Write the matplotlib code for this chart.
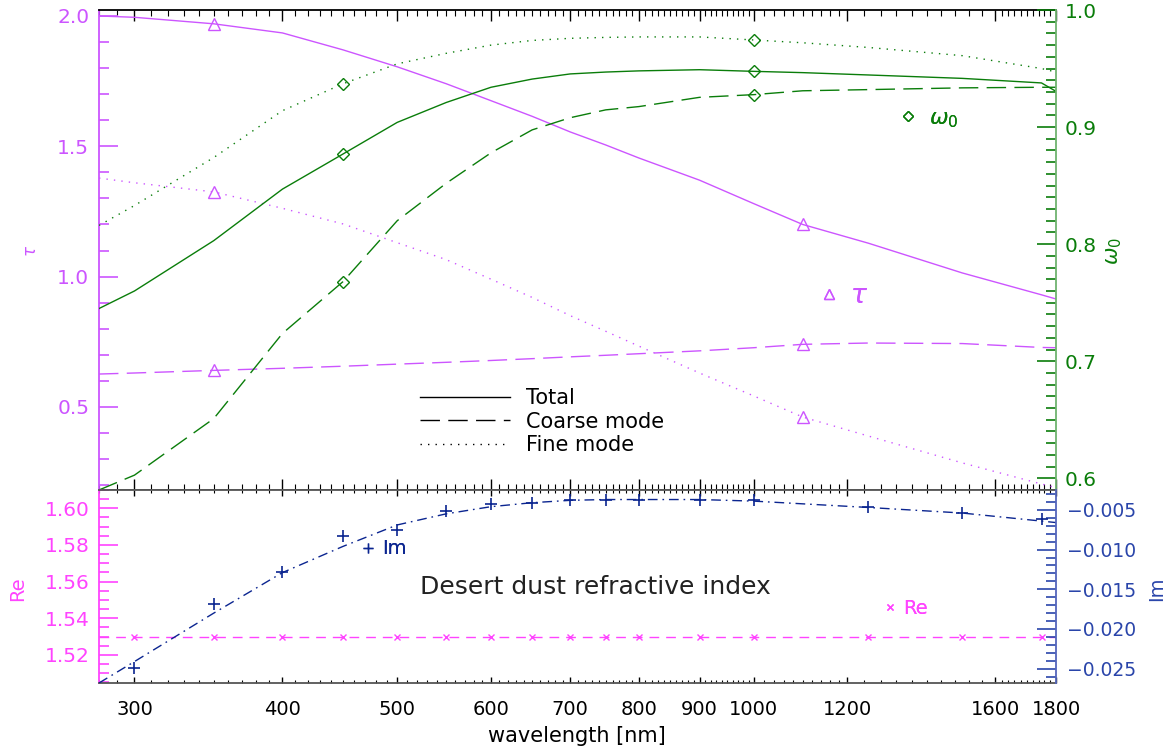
import matplotlib
matplotlib.use('Agg')
import matplotlib.pyplot as plt
from matplotlib.lines import Line2D
from matplotlib.ticker import FixedLocator, NullFormatter, FormatStrFormatter, MultipleLocator, FuncFormatter

plt.rcParams['font.family'] = ['DejaVu Sans']
plt.rcParams['mathtext.fontset'] = 'dejavusans'
plt.rcParams['lines.scale_dashes'] = False

# ---------------- data ----------------
wl = [280, 300, 350, 400, 450, 500, 550, 600, 650, 700, 750, 800, 900, 1000, 1100, 1250, 1500, 1750, 1800]
tau_total = [2.00, 1.995, 1.97, 1.935, 1.87, 1.805, 1.74, 1.675, 1.615, 1.555, 1.505, 1.455, 1.37, 1.28, 1.20, 1.128, 1.014, 0.93, 0.914]
tau_coarse = [0.626, 0.63, 0.64, 0.648, 0.656, 0.664, 0.671, 0.678, 0.685, 0.692, 0.698, 0.704, 0.715, 0.727, 0.74, 0.745, 0.743, 0.728, 0.727]
tau_fine = [1.378, 1.36, 1.325, 1.262, 1.202, 1.13, 1.065, 0.99, 0.92, 0.85, 0.79, 0.733, 0.63, 0.542, 0.461, 0.388, 0.285, 0.204, 0.19]
omega_total = [0.745, 0.760, 0.803, 0.847, 0.877, 0.904, 0.921, 0.934, 0.941, 0.9454, 0.947, 0.948, 0.949, 0.9476, 0.9465, 0.9445, 0.9416, 0.9377, 0.9305]
omega_coarse = [0.59, 0.6027, 0.651, 0.7237, 0.768, 0.820, 0.852, 0.878, 0.8976, 0.908, 0.9147, 0.9175, 0.9254, 0.9277, 0.931, 0.932, 0.9335, 0.934, 0.934]
omega_fine = [0.816, 0.833, 0.874, 0.914, 0.937, 0.954, 0.963, 0.970, 0.974, 0.9758, 0.9766, 0.977, 0.977, 0.9744, 0.972, 0.968, 0.961, 0.950, 0.947]
tau_mark_wl = [350, 1100]
omega_mark_wl = [450, 1000]

wl_ri = [300, 350, 400, 450, 500, 550, 600, 650, 700, 750, 800, 900, 1000, 1250, 1500, 1750]
re_vals = [1.53] * 16
im_vals = [-0.0249, -0.0168, -0.0128, -0.0083, -0.0075, -0.0052, -0.0043, -0.0041, -0.0037, -0.0037,
           -0.0037, -0.0037, -0.0038, -0.0047, -0.0054, -0.0061]
wl_re_line = [280, 1800]
re_line = [1.53, 1.53]
wl_im_fit = [280, 300, 350, 400, 450, 500, 550, 600, 650, 700, 750, 800, 900, 1000, 1250, 1500, 1800]
im_fit = [-0.0268, -0.0241, -0.018, -0.0129, -0.0096, -0.0069, -0.0055, -0.0046, -0.0041, -0.0038,
          -0.0037, -0.0037, -0.0037, -0.0039, -0.0047, -0.0054, -0.0066]

xticks_major = [300, 400, 500, 600, 700, 800, 900, 1000, 1200, 1600, 1800]
xticks_minor = (list(range(280, 1000, 10)) + list(range(1000, 1200, 20)) +
                list(range(1200, 1600, 40)) + list(range(1600, 1800, 20)))

# ---------------- styles ----------------
tau_c = '#cc55ff'
om_c = '#0a7d0a'
om_spine = '#6fb36f'
re_c = '#ff44ff'
im_c = '#0b2590'
im_lab = '#2a45aa'
DASH = (0, (14, 6))
DOT = (0, (1.0, 4.4))
LW = 1.0
FS = 14

fig = plt.figure(figsize=(11.68, 7.49), dpi=100)
L, W = 99 / 1168, (1056 - 99) / 1168
ax = fig.add_axes([L, 1 - 490 / 749, W, 480 / 749])
axr = ax.twinx()
bx = fig.add_axes([L, 1 - 683 / 749, W, 193 / 749])
bxr = bx.twinx()


def setup_x(a, labels, maj_len, min_len):
    a.set_xscale('log')
    a.set_xlim(280, 1800)
    a.xaxis.set_major_locator(FixedLocator(xticks_major))
    a.xaxis.set_minor_locator(FixedLocator(xticks_minor))
    a.xaxis.set_minor_formatter(NullFormatter())
    if labels:
        a.xaxis.set_major_formatter(FormatStrFormatter('%d'))
    else:
        a.xaxis.set_major_formatter(NullFormatter())
    a.tick_params(axis='x', which='both', direction='in', top=True, bottom=True, color='k')
    a.tick_params(axis='x', which='major', length=maj_len, width=1.0, labelsize=FS, pad=12)
    a.tick_params(axis='x', which='minor', length=min_len, width=0.8)


setup_x(ax, False, 8, 4.5)
setup_x(bx, True, 4, 2)
for a in (axr, bxr):
    a.tick_params(axis='x', which='both', top=False, bottom=False, labelbottom=False, labeltop=False)

# ---------------- top panel ----------------
mk_tau = [wl.index(w) for w in tau_mark_wl]
mk_om = [wl.index(w) for w in omega_mark_wl]
ax.plot(wl, tau_total, color=tau_c, lw=LW, marker='^', ms=8, mfc='none', mec=tau_c, mew=1, markevery=mk_tau)
ax.plot(wl, tau_coarse, color=tau_c, lw=LW, ls=DASH, marker='^', ms=8, mfc='none', mec=tau_c, mew=1, markevery=mk_tau)
ax.plot(wl, tau_fine, color=tau_c, lw=LW, ls=DOT, marker='^', ms=8, mfc='none', mec=tau_c, mew=1, markevery=mk_tau)
axr.plot(wl, omega_total, color=om_c, lw=LW, marker='D', ms=6, mfc='none', mec=om_c, mew=1, markevery=mk_om)
axr.plot(wl, omega_coarse, color=om_c, lw=LW, ls=DASH, marker='D', ms=6, mfc='none', mec=om_c, mew=1, markevery=mk_om)
axr.plot(wl, omega_fine, color=om_c, lw=LW, ls=DOT, marker='D', ms=6, mfc='none', mec=om_c, mew=1, markevery=mk_om)

ax.set_ylim(0.181, 2.023)
ax.yaxis.set_major_locator(MultipleLocator(0.5))
ax.yaxis.set_minor_locator(MultipleLocator(0.1))
ax.yaxis.set_major_formatter(FormatStrFormatter('%.1f'))
ax.tick_params(axis='y', which='both', direction='in', color=tau_c, labelcolor=tau_c, left=True, right=False)
ax.tick_params(axis='y', which='major', length=14, width=1.2, labelsize=FS + 0.5, pad=7)
ax.tick_params(axis='y', which='minor', length=7, width=1.2)

axr.set_ylim(0.59, 1.0)
axr.yaxis.set_major_locator(MultipleLocator(0.1))
axr.yaxis.set_minor_locator(MultipleLocator(0.01))
axr.yaxis.set_major_formatter(FormatStrFormatter('%.1f'))
axr.tick_params(axis='y', which='both', direction='in', color=om_c, labelcolor=om_c, right=True, left=False)
axr.tick_params(axis='y', which='major', length=14, width=1.2, labelsize=FS + 0.5, pad=6)
axr.tick_params(axis='y', which='minor', length=7, width=1.2)

ax.spines['left'].set_color(tau_c)
ax.spines['left'].set_linewidth(1.3)
ax.spines['right'].set_visible(False)
ax.spines['top'].set_color('k')
ax.spines['top'].set_linewidth(1.3)
ax.spines['bottom'].set_color('#555555')
ax.spines['bottom'].set_linewidth(1.3)
for s in ('left', 'top', 'bottom'):
    axr.spines[s].set_visible(False)
axr.spines['right'].set_color(om_spine)
axr.spines['right'].set_linewidth(1.3)

ax.set_ylabel(r'$\tau$', color=tau_c, fontsize=12)
ax.yaxis.set_label_coords(-0.062, 0.498)
axr.set_ylabel(r'$\omega_0$', color=om_c, fontsize=15)
axr.yaxis.set_label_coords(1.05, 0.498)

leg = ax.legend([Line2D([], [], color='k', lw=LW),
                 Line2D([], [], color='k', lw=LW, ls=DASH),
                 Line2D([], [], color='k', lw=LW, ls=DOT)],
                ['Total', 'Coarse mode', 'Fine mode'],
                loc='upper left', bbox_to_anchor=((420 - 99) / 957, (490 - 388) / 480),
                frameon=False, fontsize=15, handlelength=4.3, handletextpad=0.8,
                labelspacing=0.18, borderpad=0, borderaxespad=0)
ax.add_artist(leg)


def marker_label(a, marker, mcol, ms, text, tcol, fs, xy, hl, pad):
    h = Line2D([], [], ls='none', marker=marker, mfc='none', mec=mcol, ms=ms, mew=1)
    lg = a.legend([h], [text], loc='center left', bbox_to_anchor=xy, frameon=False,
                  fontsize=fs, labelcolor=tcol, handlelength=hl, handletextpad=pad,
                  borderpad=0, borderaxespad=0)
    a.add_artist(lg)


marker_label(axr, 'D', om_c, 5, r'$\omega_0$', om_c, 16, ((899 - 99) / 957, (490 - 119) / 480), 0.8, 0.55)
marker_label(ax, '^', tau_c, 7, r'$\tau$', tau_c, 19, ((818 - 99) / 957, (490 - 296) / 480), 0.8, 0.4)

# ---------------- bottom panel ----------------
bx.plot(wl_re_line, re_line, color=re_c, lw=LW, ls=(0, (7, 5)))
bx.plot(wl_ri, re_vals, ls='none', marker='x', ms=5, mec=re_c, mew=1)
bxr.plot(wl_im_fit, im_fit, color=im_c, lw=LW, ls=(0, (7, 3.5, 1.2, 3.5)))
bxr.plot(wl_ri, im_vals, ls='none', marker='+', ms=8, mec=im_c, mew=1.2)

bx.set_ylim(1.5047, 1.61)
bx.yaxis.set_major_locator(MultipleLocator(0.02))
bx.yaxis.set_minor_locator(MultipleLocator(0.005))
bx.yaxis.set_major_formatter(FormatStrFormatter('%.2f'))
bx.tick_params(axis='y', which='both', direction='in', color=re_c, labelcolor=re_c, left=True, right=False)
bx.tick_params(axis='y', which='major', length=14, width=1.2, labelsize=FS + 0.5, pad=7)
bx.tick_params(axis='y', which='minor', length=7, width=1.2)

bxr.set_ylim(-0.0268, -0.0025)
bxr.yaxis.set_major_locator(MultipleLocator(0.005))
bxr.yaxis.set_minor_locator(MultipleLocator(0.001))
bxr.yaxis.set_major_formatter(FuncFormatter(lambda v, p: ('%.3f' % v).replace('-', '\u2212')))
bxr.tick_params(axis='y', which='both', direction='in', color=im_lab, labelcolor=im_lab, right=True, left=False)
bxr.tick_params(axis='y', which='major', length=14, width=1.2, labelsize=13.5, pad=8)
bxr.tick_params(axis='y', which='minor', length=7, width=1.2)

bx.spines['left'].set_color(re_c)
bx.spines['left'].set_linewidth(1.3)
bx.spines['right'].set_visible(False)
bx.spines['top'].set_color('#555555')
bx.spines['top'].set_linewidth(1.3)
bx.spines['bottom'].set_color('#555555')
bx.spines['bottom'].set_linewidth(1.3)
for s in ('left', 'top', 'bottom'):
    bxr.spines[s].set_visible(False)
bxr.spines['right'].set_color('#5566bb')
bxr.spines['right'].set_linewidth(1.3)

bx.set_ylabel('Re', color=re_c, fontsize=14)
bx.yaxis.set_label_coords(-0.075, 0.49)
bxr.set_ylabel('Im', color=im_lab, fontsize=14)
bxr.yaxis.set_label_coords(1.095, 0.49)
bx.set_xlabel('wavelength [nm]', fontsize=15)
bx.xaxis.set_label_coords((577 - 99) / 957, -0.222)

bx.text((595 - 99) / 957, (683 - 587) / 193, 'Desert dust refractive index', transform=bx.transAxes,
        ha='center', va='center', fontsize=18, color='#222222')

marker_label(bxr, '+', im_c, 7, 'Im', im_c, 14, ((360 - 99) / 957, (683 - 549) / 193), 0.8, 0.35)
marker_label(bx, 'x', re_c, 5, 'Re', re_c, 14, ((882 - 99) / 957, (683 - 608) / 193), 0.8, 0.3)

fig.savefig('out.png', dpi=100)
